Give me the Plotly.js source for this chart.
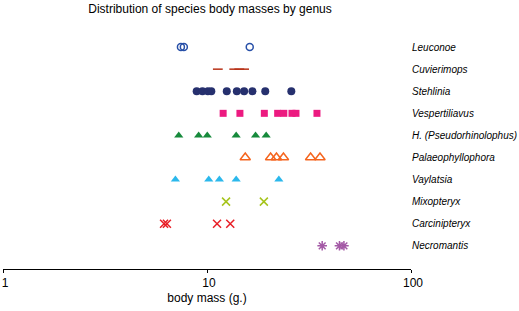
<!DOCTYPE html>
<html>
<head>
<meta charset="utf-8">
<script src="https://cdn.plot.ly/plotly-3.0.1.min.js"></script>
<style>html,body{margin:0;padding:0;background:#fff;}#chart{width:519px;height:311px;}</style>
</head>
<body>
<div id="chart"></div>
<script>
// Genera, top to bottom
const genera = ["Leuconoe","Cuvierimops","Stehlinia","Vespertiliavus","H. (Pseudorhinolophus)","Palaeophyllophora","Vaylatsia","Mixopteryx","Carcinipteryx","Necromantis"];

// Body masses (g.) per genus
const leuconoe = [7.45, 7.7, 16.2];
const cuvierimops = [11.3, 13.6, 14.4, 15.2];
const stehlinia = [8.9, 9.5, 10.1, 10.5, 12.5, 14.0, 15.2, 16.7, 19.3, 25.9];
const vespertiliavus = [12.0, 14.5, 19.1, 22.2, 23.8, 26.1, 27.3, 34.6];
const pseudorhinolophus = [7.27, 9.1, 10.03, 13.9, 17.3, 19.5];
const palaeophyllophora = [15.4, 20.5, 21.9, 23.7, 32.2, 35.8];
const vaylatsia = [7.0, 10.2, 11.5, 13.9, 22.5];
const mixopteryx = [12.4, 19.0];
const carcinipteryx = [6.16, 6.36, 11.2, 13.0];
const necromantis = [36.7, 44.6, 46.9];

const seriesValues = [leuconoe, cuvierimops, stehlinia, vespertiliavus, pseudorhinolophus, palaeophyllophora, vaylatsia, mixopteryx, carcinipteryx, necromantis];

// tick labels
const xTickVals = [1, 10, 100];
const xTickText = ["1", "10", "100"];

const styles = [
  {symbol: "circle-open", color: "#2850a8", size: 7, lw: 1.5},
  {symbol: "line-ew-open", color: "#b83218", size: 7, lw: 1.5},
  {symbol: "circle", color: "#26306e", size: 8, lw: 0},
  {symbol: "square", color: "#ec1a80", size: 7, lw: 0},
  {symbol: "triangle-up", color: "#178a3c", size: 8, lw: 0},
  {symbol: "triangle-up-open", color: "#f5651e", size: 9, lw: 1.5},
  {symbol: "triangle-up", color: "#2bb8ec", size: 8, lw: 0},
  {symbol: "x-thin-open", color: "#a6c41c", size: 8, lw: 1.5},
  {symbol: "x-thin-open", color: "#e81e26", size: 8, lw: 1.5},
  {symbol: "asterisk-open", color: "#a45aa6", size: 8, lw: 1.5}
];

const traces = genera.map((g, i) => ({
  type: "scatter",
  mode: "markers",
  x: seriesValues[i],
  y: seriesValues[i].map(() => g),
  name: g,
  hoverinfo: "skip",
  marker: {
    symbol: styles[i].symbol,
    color: styles[i].color,
    size: styles[i].size,
    line: {color: styles[i].color, width: styles[i].lw}
  }
}));

const layout = {
  width: 519,
  height: 311,
  margin: {l: 3, r: 108, t: 25, b: 42, pad: 0},
  paper_bgcolor: "#ffffff",
  plot_bgcolor: "#ffffff",
  showlegend: false,
  font: {family: "Liberation Sans, Arial, sans-serif", size: 12, color: "#000"},
  title: {
    text: "Distribution of species body masses by genus",
    font: {size: 12, color: "#000"},
    xref: "container", x: 210/519, xanchor: "center",
    yref: "container", y: 1 - 9/311, yanchor: "middle"
  },
  xaxis: {
    type: "log",
    range: [0, 2],
    tickvals: xTickVals,
    ticktext: xTickText,
    ticks: "outside",
    ticklen: 3,
    tickwidth: 1,
    tickcolor: "#000",
    ticklabelshift: 2,
    showline: true,
    linecolor: "#000",
    linewidth: 1,
    showgrid: false,
    zeroline: false,
    tickfont: {size: 12},
    title: {text: "body mass (g.)", font: {size: 12}, standoff: 4}
  },
  yaxis: {
    type: "category",
    categoryarray: genera,
    categoryorder: "array",
    range: [10.05, -1],
    side: "right",
    showline: false,
    showgrid: false,
    zeroline: false,
    ticks: "",
    tickfont: {size: 10, style: "italic"},
    ticklabelstandoff: 0
  }
};

Plotly.newPlot("chart", traces, layout, {staticPlot: true, displayModeBar: false});
</script>
</body>
</html>
